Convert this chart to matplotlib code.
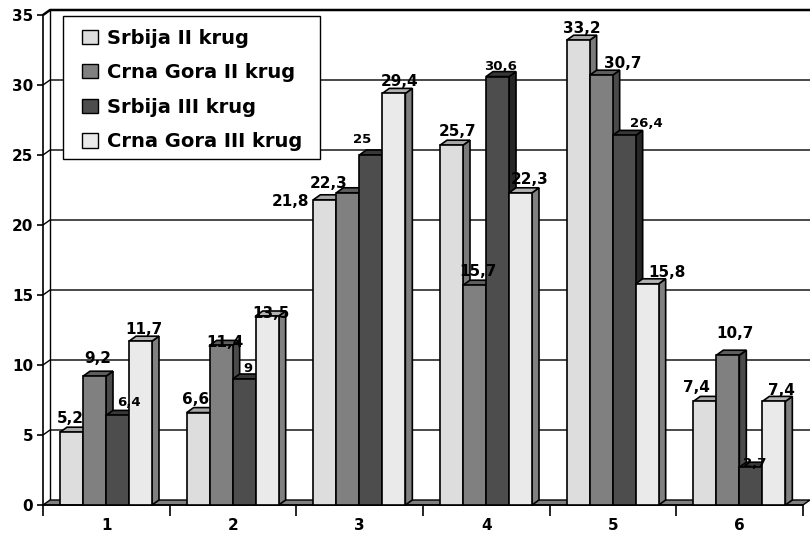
import matplotlib
matplotlib.use("Agg")
import matplotlib.pyplot as plt
from matplotlib.patches import Polygon, Patch, Rectangle

# data
groups = ["1", "2", "3", "4", "5", "6"]
series = ["Srbija II krug", "Crna Gora II krug", "Srbija III krug", "Crna Gora III krug"]
srbija_2 = [5.2, 6.6, 21.8, 25.7, 33.2, 7.4]
crna_gora_2 = [9.2, 11.4, 22.3, 15.7, 30.7, 10.7]
srbija_3 = [6.4, 9, 25, 30.6, 26.4, 2.7]
crna_gora_3 = [11.7, 13.5, 29.4, 22.3, 15.8, 7.4]
yticks = [0, 5, 10, 15, 20, 25, 30, 35]

values = [srbija_2, crna_gora_2, srbija_3, crna_gora_3]

# styling
front = ["#DDDDDD", "#808080", "#4D4D4D", "#EAEAEA"]
top = ["#A8A8A8", "#5E5E5E", "#383838", "#B2B2B2"]
side = ["#7A7A7A", "#4A4A4A", "#262626", "#808080"]
lbl_size = [11, 11, 9.5, 11]
# label nudges in pixels: (group, series) -> (dx, dy up)
nudge = {(0, 0): (-5, 0), (0, 1): (0, 4), (0, 2): (8, 0), (0, 3): (0, -2),
         (1, 0): (-6, 0), (1, 1): (0, -11), (1, 2): (0, -2), (1, 3): (0, -11),
         (2, 0): (-38, -15), (2, 1): (-23, -4), (2, 2): (-12, 3), (2, 3): (2, -2),
         (3, 0): (3, 0), (3, 2): (0, -2), (3, 3): (6, 0),
         (4, 0): (0, -2), (4, 1): (18, -2), (4, 2): (19, -1), (4, 3): (16, -2),
         (5, 0): (-12, 0), (5, 1): (4, 8), (5, 2): (0, -9), (5, 3): (4, -3)}

plt.rcParams['font.family'] = ['DejaVu Sans']

W, H = 810, 535
fig = plt.figure(figsize=(W / 100, H / 100), dpi=100)
ax = fig.add_axes([43 / W, 30 / H, 760 / W, 490 / H])
ax.set_xlim(0, len(groups))
ax.set_ylim(0, 35)

px = len(groups) / 760.0
py = 35 / 490.0
DX, DY = 7 * px, 5 * py
bw = 23 * px
gap = 17 * px
n = len(groups)

# walls and gridlines
for y in yticks[1:]:
    lw = 1.8 if y == yticks[-1] else 1.0
    ax.plot([0, DX, n + DX], [y, y + DY, y + DY], color="black", lw=lw,
            clip_on=False, zorder=1, solid_capstyle="butt")
ax.plot([DX, DX], [DY, 35 + DY], color="black", lw=1, clip_on=False, zorder=1)
ax.add_patch(Polygon([(0, 0), (n, 0), (n + DX, DY), (DX, DY)], closed=True,
                     fc="#808080", ec="black", lw=1, clip_on=False, zorder=1.5))

# 3d bars
for i in range(n):
    for j in range(len(series)):
        v = values[j][i]
        x0 = i + gap + j * bw
        z = 2 + i * 4 + j
        ax.add_patch(Polygon([(x0, 0), (x0 + bw, 0), (x0 + bw, v), (x0, v)],
                             fc=front[j], ec="black", lw=1.2, zorder=z + 0.2, clip_on=False))
        ax.add_patch(Polygon([(x0, v), (x0 + bw, v), (x0 + bw + DX, v + DY), (x0 + DX, v + DY)],
                             fc=top[j], ec="black", lw=1.2, zorder=z + 0.1, clip_on=False))
        ax.add_patch(Polygon([(x0 + bw, 0), (x0 + bw + DX, DY), (x0 + bw + DX, v + DY), (x0 + bw, v)],
                             fc=side[j], ec="black", lw=1.2, zorder=z, clip_on=False))
        ndx, ndy = nudge.get((i, j), (0, 0))
        ax.text(x0 + bw / 2 + DX / 2 + ndx * px, v + DY + (4 + ndy) * py,
                ("%g" % v).replace(".", ","), ha="center", va="baseline",
                fontsize=lbl_size[j], fontweight="bold", zorder=100, clip_on=False)

# axes
for s in ["top", "right"]:
    ax.spines[s].set_visible(False)
ax.spines["left"].set_linewidth(1.2)
ax.spines["bottom"].set_linewidth(1.2)
ax.spines["left"].set_zorder(50)
ax.set_yticks(yticks)
ax.set_yticklabels([str(t) for t in yticks], fontsize=11, fontweight="bold")
ax.tick_params(axis="y", direction="out", length=4, width=1.2, pad=3)
ax.set_xticks([i + 0.5 for i in range(n)])
ax.set_xticklabels(groups, fontsize=11, fontweight="bold")
ax.set_xticks(range(n + 1), minor=True)
ax.tick_params(axis="x", which="major", length=0, pad=9)
ax.tick_params(axis="x", which="minor", direction="out", length=8, width=1.2)

# legend box drawn separately so its size matches the original
ax.add_patch(Rectangle((63 / W, 1 - 159 / H), 257 / W, 143 / H, transform=fig.transFigure,
                       fc="white", ec="black", lw=1, zorder=150, clip_on=False))
handles = [Patch(fc=front[j], ec="black", lw=1) for j in range(len(series))]
leg = ax.legend(handles, series, loc="upper left", bbox_to_anchor=(82 / W, 1 - 28.5 / H),
                bbox_transform=fig.transFigure, borderaxespad=0, frameon=False,
                prop={"size": 14, "weight": "bold"},
                handlelength=0.82, handleheight=0.75, handletextpad=0.46,
                labelspacing=0.8, borderpad=0)
leg.set_zorder(200)

fig.savefig("out.png", dpi=100)
